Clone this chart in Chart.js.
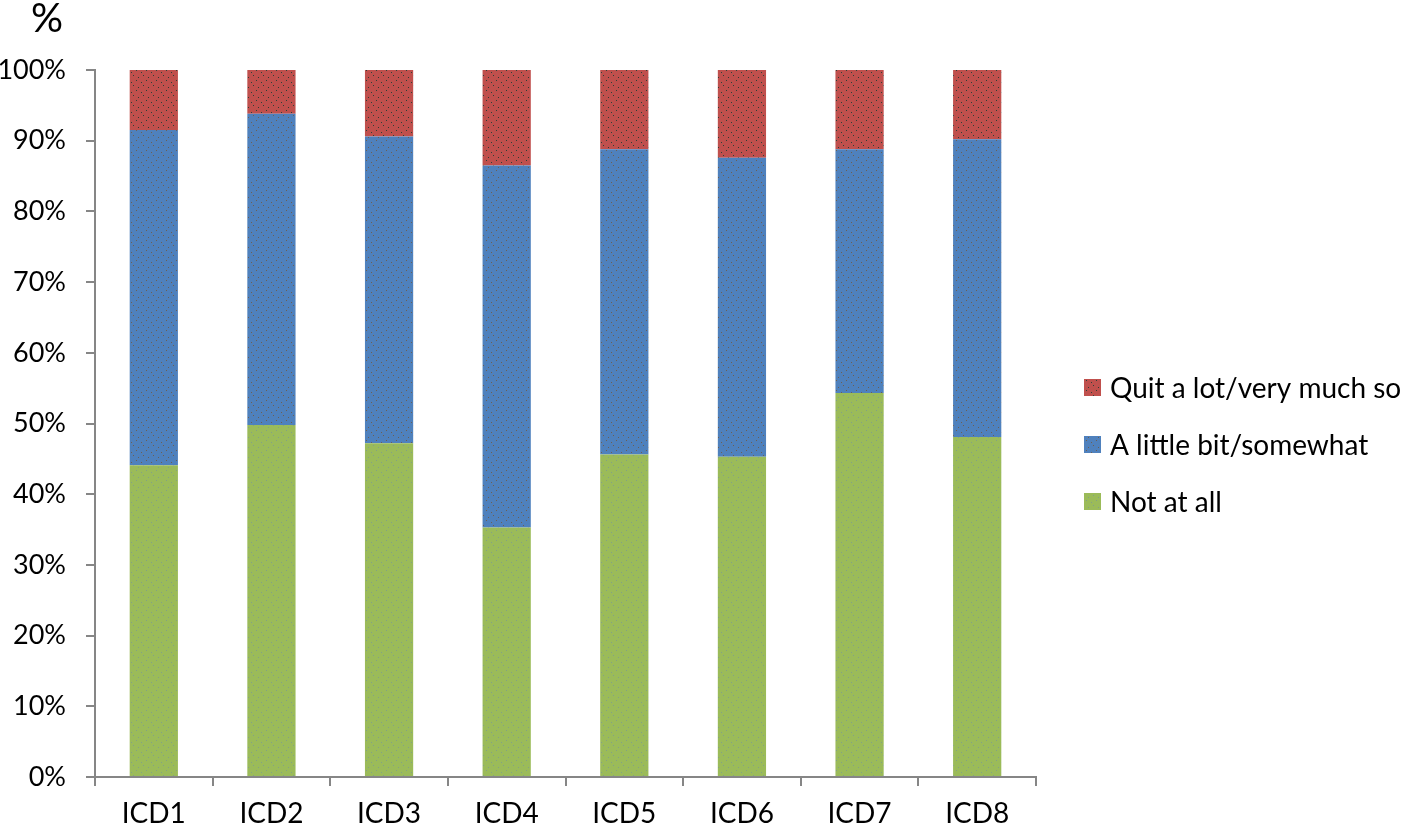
<!DOCTYPE html>
<html>
<head>
<meta charset="utf-8">
<script src="https://cdn.jsdelivr.net/npm/chart.js@4.4.1/dist/chart.umd.min.js"></script>
<style>
    body { margin: 0; background: #fff; }
    #wrap { width: 1418px; height: 826px; position: relative; }
</style>
</head>
<body>
<div id="wrap"><canvas id="icd"></canvas></div>
<script>
// data (percent of respondents)
const categories = ['ICD1', 'ICD2', 'ICD3', 'ICD4', 'ICD5', 'ICD6', 'ICD7', 'ICD8']
const not_at_all = [44.1, 49.8, 47.2, 35.3, 45.6, 45.3, 54.3, 48.1]
const little_bit = [47.4, 44.0, 43.4, 51.2, 43.2, 42.3, 34.5, 42.1]
const quite_lot = [8.5, 6.2, 9.4, 13.5, 11.2, 12.4, 11.2, 9.8]
const series_names = ['Not at all', 'A little bit/somewhat', 'Quit a lot/very much so']
const y_ticks = [0, 10, 20, 30, 40, 50, 60, 70, 80, 90, 100]

const FONT = 'Lato, "Open Sans", sans-serif'
const AXIS = '#868686'

// the excel bars have a faint dotted texture, fake it with a small tile
function dotted(base, dot) {
    const c = document.createElement('canvas')
    c.width = 10
    c.height = 10
    const g = c.getContext('2d')
    g.fillStyle = base
    g.fillRect(0, 0, 10, 10)
    g.fillStyle = dot
    const spots = [[1, 2], [6, 0], [3, 5], [8, 7]]
    spots.forEach(p => g.fillRect(p[0], p[1], 1, 1))
    return g.createPattern(c, 'repeat')
}

const green = dotted('#9BBB59', 'rgba(110,140,170,0.55)')
const blue = dotted('#4F81BD', 'rgba(120,80,40,0.7)')
const red = dotted('#C0504D', 'rgba(20,60,50,0.85)')

// legend drawn by hand so it sits where the original one does
const sideLegend = {
    id: 'sideLegend',
    afterDraw(chart) {
        const ctx = chart.ctx
        const x0 = chart.chartArea.right + 48
        const sets = chart.data.datasets.slice().reverse()
        ctx.save()
        ctx.font = '28px ' + FONT
        ctx.textBaseline = 'middle'
        sets.forEach((ds, i) => {
            const cy = 388 + i * 57
            ctx.fillStyle = ds.backgroundColor
            ctx.fillRect(x0, cy - 9, 17, 17)
            ctx.fillStyle = '#000'
            ctx.fillText(ds.label, x0 + 26, cy + 1)
        })
        // "%" unit above the y axis
        ctx.font = '40px ' + FONT
        ctx.textAlign = 'center'
        ctx.fillText('%', 47, 19)
        ctx.restore()
    }
}

new Chart(document.getElementById('icd'), {
    type: 'bar',
    data: {
        labels: categories,
        datasets: [
            { label: series_names[0], data: not_at_all, backgroundColor: green },
            { label: series_names[1], data: little_bit, backgroundColor: blue },
            { label: series_names[2], data: quite_lot, backgroundColor: red }
        ]
    },
    plugins: [sideLegend],
    options: {
        responsive: true,
        maintainAspectRatio: false,
        animation: false,
        devicePixelRatio: 1,
        barPercentage: 0.82,
        categoryPercentage: 0.5,
        layout: {
            padding: { top: 70, right: 382, bottom: 0, left: 0 }
        },
        scales: {
            x: {
                stacked: true,
                afterFit(scale) { scale.height = 49 },
                border: { display: true, color: AXIS, width: 2 },
                grid: {
                    drawOnChartArea: false,
                    drawTicks: true,
                    tickLength: 9,
                    color: AXIS,
                    lineWidth: 2
                },
                ticks: {
                    color: '#000',
                    padding: 11,
                    maxRotation: 0,
                    font: { family: FONT, size: 28 }
                }
            },
            y: {
                stacked: true,
                min: 0,
                max: 100,
                afterFit(scale) { scale.width = 95 },
                afterBuildTicks(scale) {
                    scale.ticks = y_ticks.map(v => ({ value: v }))
                },
                border: { display: true, color: AXIS, width: 2 },
                grid: {
                    drawOnChartArea: false,
                    drawTicks: true,
                    tickLength: 9,
                    color: AXIS,
                    lineWidth: 2
                },
                ticks: {
                    color: '#000',
                    padding: 20,
                    callback: function(v) { return v + '%' },
                    font: { family: FONT, size: 27 }
                }
            }
        },
        plugins: {
            legend: { display: false },
            tooltip: { enabled: false },
            title: { display: false }
        }
    }
})
</script>
</body>
</html>
